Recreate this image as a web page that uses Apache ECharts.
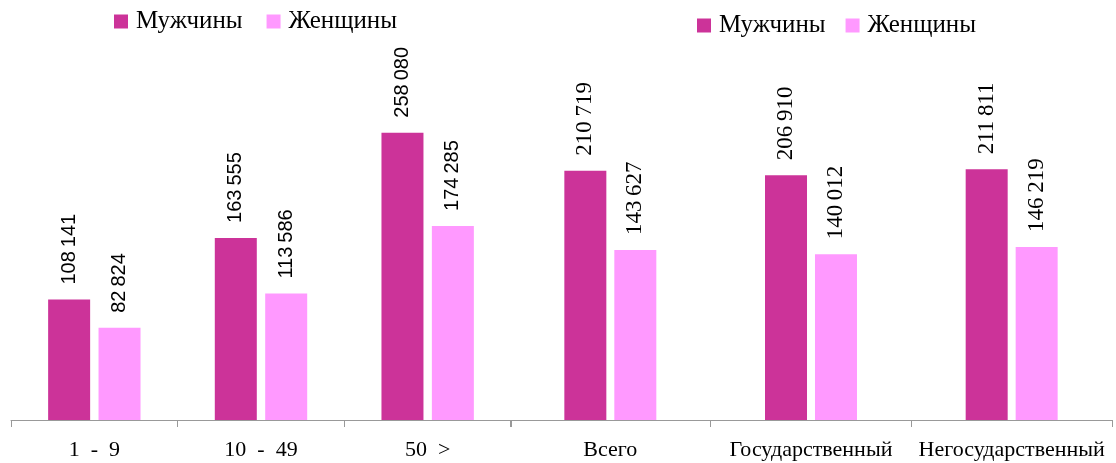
<!DOCTYPE html>
<html><head><meta charset="utf-8">
<script src="https://cdn.jsdelivr.net/npm/echarts@6/dist/echarts.min.js"></script>
<style>html,body{margin:0;padding:0;background:#fff}#c{width:1116px;height:463px}</style>
</head><body><div id="c"></div>
<script>
const sizeCategories = ['1  -  9', '10  -  49', '50  >'];
const sizeMen = [108141, 163555, 258080];
const sizeWomen = [82824, 113586, 174285];

const ownCategories = ['Всего', 'Государственный', 'Негосударственный'];
const ownMen = [210719, 206910, 211811];
const ownWomen = [143627, 140012, 146219];

const seriesNames = ['Мужчины', 'Женщины'];
const colors = ['#CC3399', '#FF99FF'];

function fmt(v) {
  return String(v).replace(/\B(?=(\d{3})+(?!\d))/g, '\u2009');
}

const chart = echarts.init(document.getElementById('c'), null, {renderer: 'canvas'});
const serif = '"Liberation Serif", "DejaVu Serif", serif';
const sans = '"Liberation Sans", "DejaVu Sans", sans-serif';

function axisX(idx, cats) {
  return {
    type: 'category', gridIndex: idx, data: cats,
    axisLine: {lineStyle: {color: '#999', width: 1}},
    axisTick: {show: true, interval: 0, length: 7, lineStyle: {color: '#999'}},
    axisLabel: {interval: 0, hideOverlap: false, color: '#000', fontFamily: serif, fontSize: 22, margin: 19}
  };
}
function axisY(idx) {
  return {type: 'value', gridIndex: idx, min: 0, max: 300000, show: false, splitLine: {show: false}};
}
function barSeries(name, data, idx, color, font, fontSize, gap) {
  return {
    type: 'bar', name: name, data: data, xAxisIndex: idx, yAxisIndex: idx,
    barWidth: 42, barGap: gap,
    itemStyle: {color: color},
    label: {
      show: true, position: 'top', rotate: 90, align: 'left', verticalAlign: 'middle',
      distance: 15, color: '#000', fontFamily: font, fontSize: fontSize,
      formatter: p => fmt(p.value)
    }
  };
}
function legendAt(left, top, gap) {
  return {
    left: left, top: top, padding: 0, itemWidth: 14, itemHeight: 14, itemGap: gap, icon: 'rect',
    data: seriesNames,
    textStyle: {color: '#000', fontFamily: serif, fontSize: 25, padding: [0, 0, 0, 3]}
  };
}

chart.setOption({
  animation: false,
  color: colors,
  legend: [legendAt(114, 9, 24), legendAt(697, 13, 20)],
  grid: [
    {left: 11, width: 500, top: 86, bottom: 43},
    {left: 510, width: 602, top: 65, bottom: 43}
  ],
  xAxis: [axisX(0, sizeCategories), axisX(1, ownCategories)],
  yAxis: [axisY(0), axisY(1)],
  series: [
    barSeries(seriesNames[0], sizeMen, 0, colors[0], sans, 20, '20%'),
    barSeries(seriesNames[1], sizeWomen, 0, colors[1], sans, 20, '20%'),
    barSeries(seriesNames[0], ownMen, 1, colors[0], serif, 23, '19%'),
    barSeries(seriesNames[1], ownWomen, 1, colors[1], serif, 23, '19%')
  ]
});
</script></body></html>
